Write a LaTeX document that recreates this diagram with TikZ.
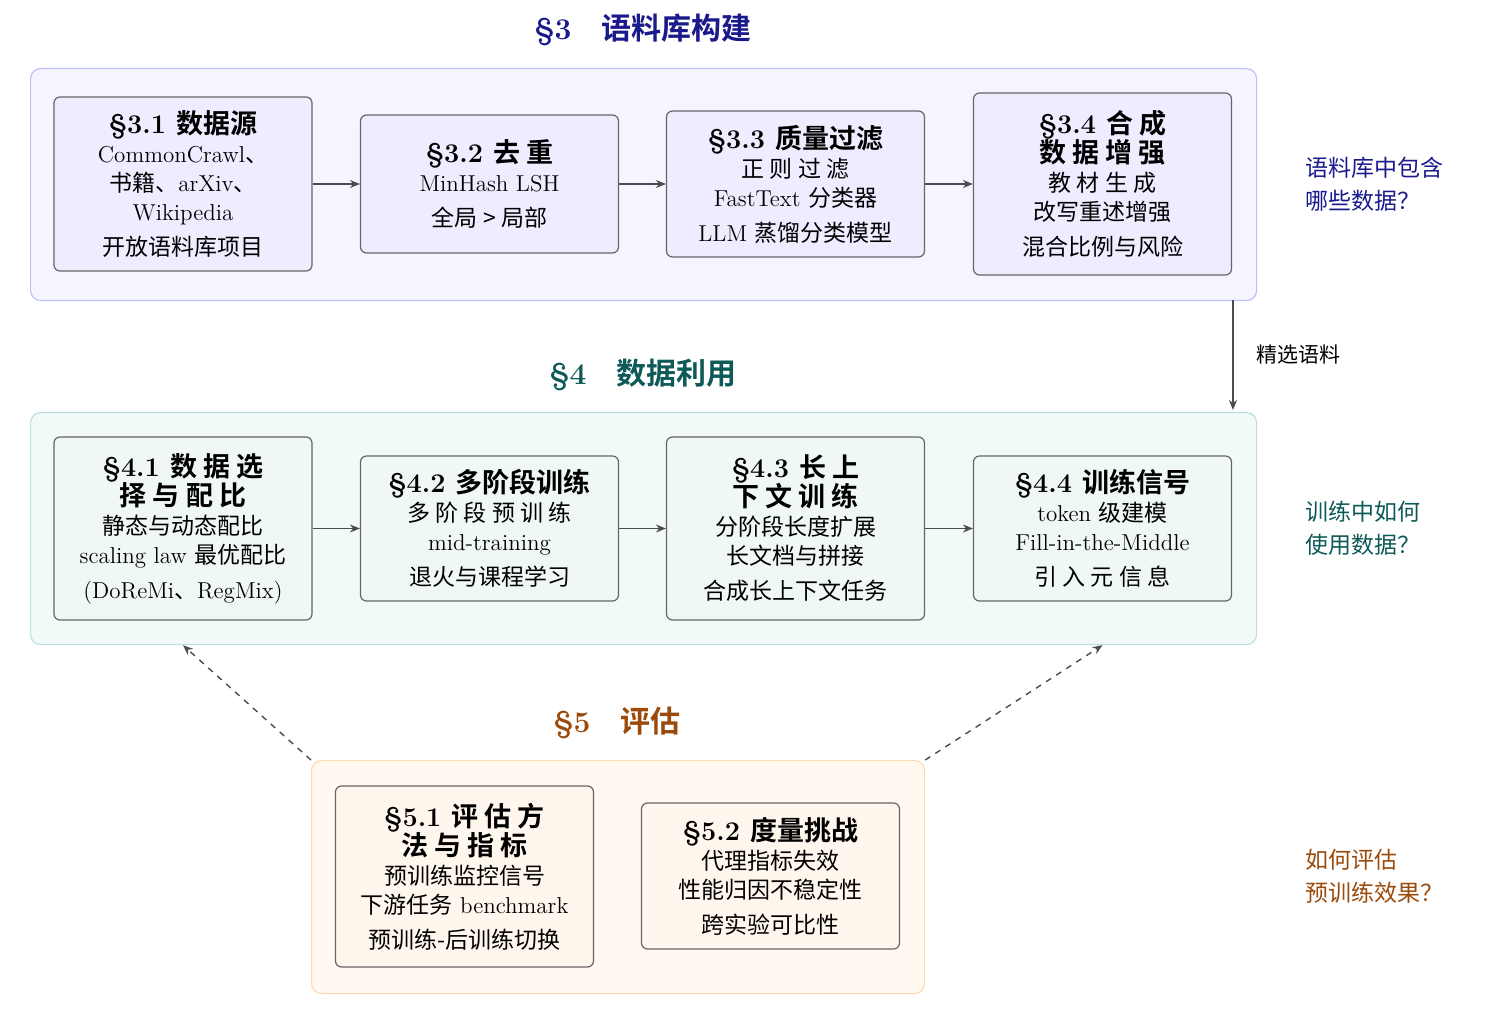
\documentclass[tikz,border=0pt]{standalone}
\usepackage{fontspec}
\newfontfamily\zhf{Noto Sans CJK SC}[BoldFont={Noto Sans CJK SC Bold}]
\newcommand{\zh}[1]{{\zhf #1}}
\newcommand{\bxt}{\fontsize{13.5}{17}\selectfont\bfseries}
\usetikzlibrary{arrows.meta}
\definecolor{tblue}{HTML}{1A1A8C}
\definecolor{tteal}{HTML}{0E5A58}
\definecolor{tbrown}{HTML}{9A4A0A}
\begin{document}
\begin{tikzpicture}[x=0.5pt,y=-0.5pt,
  panel/.style={draw=#1, rounded corners=5pt, line width=0.6pt, inner sep=0pt, minimum width=613pt, anchor=north west},
  box/.style={draw=black!60, fill=#1, rounded corners=3pt, line width=0.6pt, minimum width=129pt, align=center, inner sep=0pt, font=\fontsize{11.5}{14.5}\selectfont},
  arr/.style={-{Stealth[length=5pt,width=4pt]}, draw=black!70, line width=0.7pt},
  hd/.style={font=\fontsize{15}{18}\selectfont\bfseries},
  side/.style={align=left, anchor=west, font=\fontsize{11.5}{16.5}\selectfont}]
\useasboundingbox (0,0) rectangle (1506,1010);
% titles
\node[hd, text=tblue] (h3) at (643,30) {\S3\quad\zh{语料库构建}};
\node[hd, text=tteal] (h4) at (643,375) {\S4\quad\zh{数据利用}};
\node[hd, text=tbrown] (h5) at (617,723) {\S5\quad\zh{评估}};
% panels
\node[panel=blue!25, fill=blue!4, minimum height=116pt] (p1) at (30,68) {};
\node[panel=teal!25, fill=teal!5, minimum height=116pt] (p2) at (30,412) {};
\node[panel=orange!30, fill=orange!5, minimum width=306.5pt, minimum height=116.5pt] (p3) at (311,760) {};
% row 1
\node[box=blue!7, minimum height=87pt] (b11) at (183,184) {{\bxt\S3.1 \zh{数据源}}\\CommonCrawl\zh{、}\\\zh{书籍、}arXiv\zh{、}\\Wikipedia\\[3pt]\zh{开放语料库项目}};
\node[box=blue!7, minimum height=69pt] (b12) at (489.5,184) {{\bxt\S3.2 \zh{去 重}}\\MinHash LSH\\[3pt]\zh{全局 > 局部}};
\node[box=blue!7, minimum height=73pt] (b13) at (795.5,184) {{\bxt\S3.3 \zh{质量过滤}}\\\zh{正 则 过 滤}\\FastText \zh{分类器}\\[3pt]LLM \zh{蒸馏分类模型}};
\node[box=blue!7, minimum height=91pt] (b14) at (1102.5,184) {{\bxt\S3.4 \zh{合 成}}\\{\bxt\zh{数 据 增 强}}\\\zh{教 材 生 成}\\\zh{改写重述增强}\\[3pt]\zh{混合比例与风险}};
\draw[arr] (b11) -- (b12);
\draw[arr] (b12) -- (b13);
\draw[arr] (b13) -- (b14);
% row 2
\node[box=teal!6, minimum height=91.5pt] (b21) at (183,528.5) {{\bxt\S4.1 \zh{数 据 选}}\\{\bxt\zh{择 与 配 比}}\\\zh{静态与动态配比}\\scaling law \zh{最优配比}\\[3pt](DoReMi\zh{、}RegMix)};
\node[box=teal!6, minimum height=72.5pt] (b22) at (489.5,528.5) {{\bxt\S4.2 \zh{多阶段训练}}\\\zh{多 阶 段 预 训 练}\\mid-training\\[3pt]\zh{退火与课程学习}};
\node[box=teal!6, minimum height=91.5pt] (b23) at (795.5,528.5) {{\bxt\S4.3 \zh{长 上}}\\{\bxt\zh{下 文 训 练}}\\\zh{分阶段长度扩展}\\\zh{长文档与拼接}\\[3pt]\zh{合成长上下文任务}};
\node[box=teal!6, minimum height=72.5pt] (b24) at (1102.5,528.5) {{\bxt\S4.4 \zh{训练信号}}\\token \zh{级建模}\\Fill-in-the-Middle\\[3pt]\zh{引 入 元 信 息}};
\draw[arr] (b21) -- (b22);
\draw[arr] (b22) -- (b23);
\draw[arr] (b23) -- (b24);
% row 3
\node[box=orange!7, minimum height=90.5pt] (b31) at (464.5,876.5) {{\bxt\S5.1 \zh{评 估 方}}\\{\bxt\zh{法 与 指 标}}\\\zh{预训练监控信号}\\\zh{下游任务} benchmark\\[3pt]\zh{预训练-后训练切换}};
\node[box=orange!7, minimum height=73pt] (b32) at (770.5,876) {{\bxt\S5.2 \zh{度量挑战}}\\\zh{代理指标失效}\\\zh{性能归因不稳定性}\\[3pt]\zh{跨实验可比性}};
% connectors
\coordinate (d1) at (1233,300);
\coordinate (d2) at (1233,410);
\draw[arr] (d1) -- node[right=8pt, font=\fontsize{10.5}{12}\selectfont\zhf] {精选语料} (d2);
\draw[arr, dashed] (p3.north west) -- (p2.south -| b21);
\draw[arr, dashed] (p3.north east) -- (p2.south -| b24);
% side notes
\node[side, text=tblue] (s1) at (1298,184) {\zh{语料库中包含}\\\zh{哪些数据？}};
\node[side, text=tteal] (s2) at (1298,528) {\zh{训练中如何}\\\zh{使用数据？}};
\node[side, text=tbrown] (s3) at (1298,876) {\zh{如何评估}\\\zh{预训练效果？}};
\end{tikzpicture}
\end{document}
